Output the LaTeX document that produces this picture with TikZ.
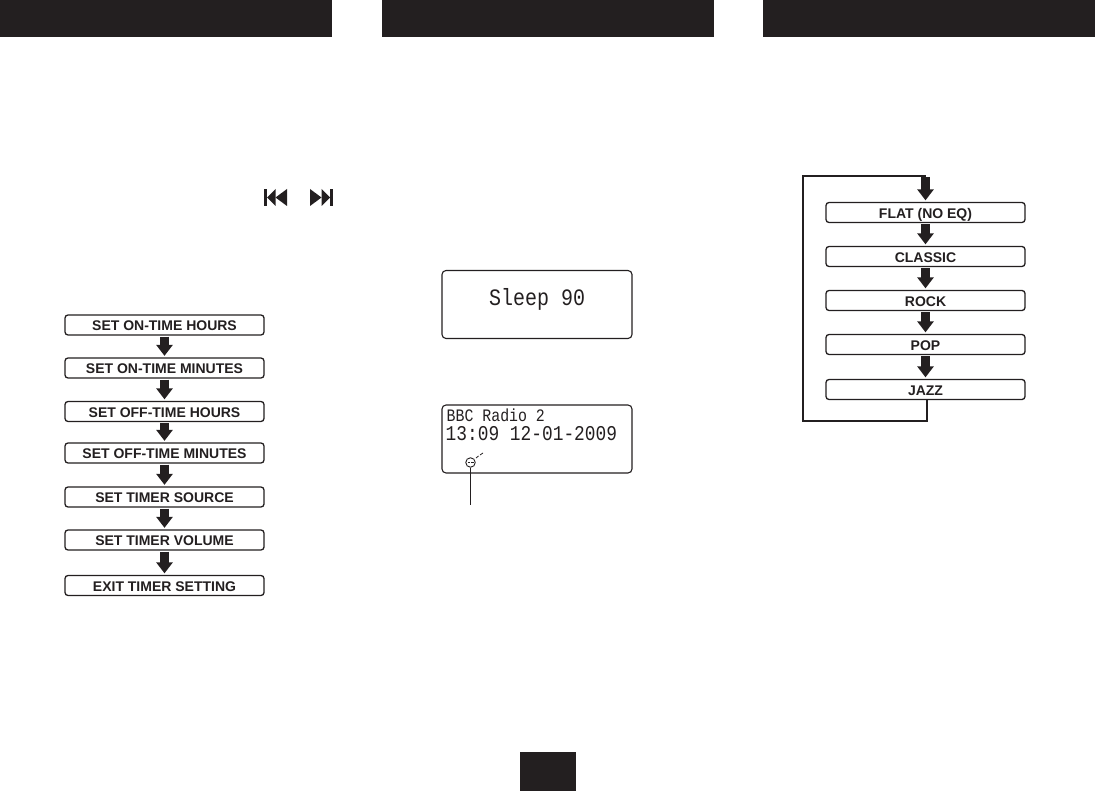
\documentclass[tikz,border=0pt]{standalone}
\usepackage{fontspec}
\setmainfont{Liberation Sans}
\newfontfamily\lcdfont[FakeStretch=0.85]{Liberation Mono}
\usetikzlibrary{arrows.meta}
\definecolor{InkBlack}{RGB}{35,31,32}
\tikzset{
	headbar/.style={fill=InkBlack,draw=none},
	menu/.style={draw=InkBlack,fill=white,rounded corners=3pt,line width=1.3pt,minimum width=199pt,minimum height=20pt,inner sep=0pt,text height=11.4pt,text depth=0pt,font=\bfseries\fontsize{14}{15}\selectfont,text=InkBlack},
	flow/.style={draw=InkBlack,line width=8.5pt,-{Triangle[width=16pt,length=11pt]},shorten >=1.5pt,shorten <=1pt},
	loopline/.style={draw=InkBlack,line width=2pt},
	lcd/.style={draw=InkBlack,rounded corners=4pt,line width=1.1pt,minimum width=190pt,minimum height=68pt,inner sep=0pt},
	lcdtext/.style={inner sep=0pt,anchor=base west,text=InkBlack,font=\lcdfont},
	skip/.pic={
		\fill[InkBlack] (-11.5,-8.5) rectangle (-8.5,8.5);
		\fill[InkBlack] (-8.5,0) -- (0,-8.5) -- (0,8.5) -- cycle;
		\fill[InkBlack] (0,0) -- (11.5,-8.5) -- (11.5,8.5) -- cycle;
	},
}
\begin{document}
\begin{tikzpicture}[x=1pt,y=-1pt]
	\useasboundingbox (0,0) rectangle (1095,791);
	\foreach \x/\w in {0/332,382/332,763/332}
	\fill[headbar] (\x,0) rectangle ++(\w,37);
	\fill[headbar] (520,752) rectangle (576,791);
	% timer steps
	\foreach \n/\y/\t in {t1/325/SET ON-TIME HOURS,t2/368/SET ON-TIME MINUTES,t3/411.5/SET OFF-TIME HOURS,t4/453/SET OFF-TIME MINUTES,t5/497/SET TIMER SOURCE,t6/540/SET TIMER VOLUME,t7/585.5/EXIT TIMER SETTING}
	\node[menu] (\n) at (164.5,\y) {\t};
	\foreach \a/\b in {t1/t2,t2/t3,t3/t4,t4/t5,t5/t6,t6/t7}
	\draw[flow] (\a) -- (\b);
	% eq modes
	\foreach \n/\y/\t in {flat/212.5/FLAT (NO EQ),classic/256.5/CLASSIC,rock/300.5/ROCK,pop/344.5/POP,jazz/389.5/JAZZ}
	\node[menu] (\n) at (925.5,\y) {\t};
	\foreach \a/\b in {flat/classic,classic/rock,rock/pop,pop/jazz}
	\draw[flow] (\a) -- (\b);
	\coordinate (looptop) at (925.5,176);
	\coordinate (loopleft) at (803,421);
	\draw[loopline] ([xshift=1.5pt]jazz.south) |- (loopleft) |- (looptop);
	\draw[flow] (looptop) -- (flat);
	% displays
	\node[lcd] (sleepbox) at (537,304.5) {};
	\node[lcd] (clockbox) at (537,439) {};
	\node[lcdtext,font=\lcdfont\fontsize{23.5}{24}\selectfont] (sleeptxt) at (489,305.5) {Sleep 90};
	\node[lcdtext,font=\lcdfont\fontsize{17.5}{18}\selectfont] (station) at (446.5,421.5) {BBC Radio 2};
	\node[lcdtext,font=\lcdfont\fontsize{21}{21}\selectfont] (clocktxt) at (445.5,440) {13:09 12-01-2009};
	\node[circle,draw=InkBlack,line width=.9pt,minimum size=9.5pt,inner sep=0pt] (sleepicon) at (470.5,462.5) {};
	\draw[InkBlack,line width=.8pt] (467.5,462.5) -- (470,462.5) (471,462.5) -- (473.5,462.5);
	\draw[InkBlack,line width=.8pt] (476,458) -- (478.5,456) (480,455) -- (483,453);
	\coordinate (leaderend) at (470.5,505);
	\draw[InkBlack,line width=1pt] (sleepicon) -- (leaderend);
	% skip buttons
	\pic at (275.5,197.5) {skip};
	\pic[xscale=-1] at (321.5,197.5) {skip};
\end{tikzpicture}
\end{document}
